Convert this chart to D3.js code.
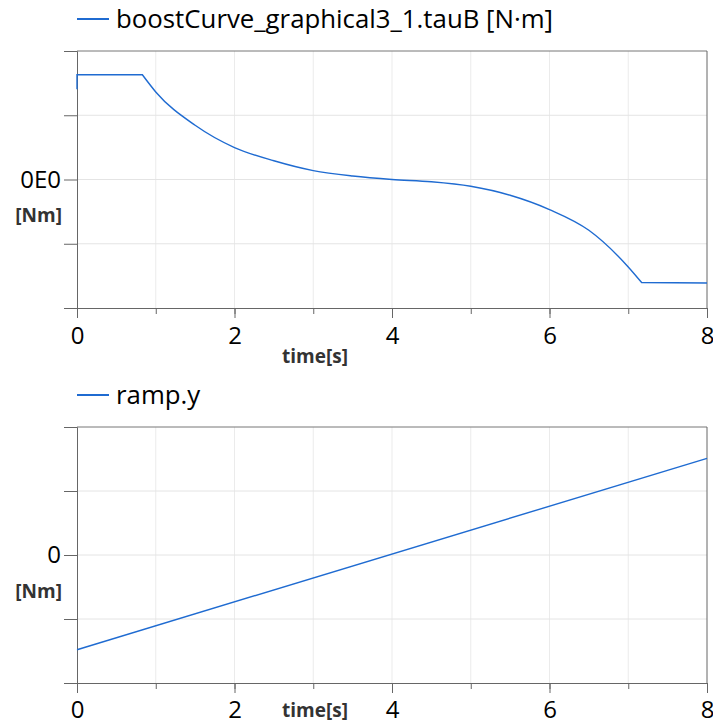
<!DOCTYPE html>
<html lang="en">
<head>
<meta charset="UTF-8">
<title>boostCurve</title>
<style>
  body { margin: 0; background: #fff; }
  text { font-family: "Open Sans", "Noto Sans", sans-serif; }
</style>
</head>
<body>
<svg id="svg" width="713" height="724"></svg>
<script src="https://d3js.org/d3.v7.min.js"></script>
<script>
// values (y in tick steps, one grid step = 1)
const tauT = [0, 0, 0.83, 1.0, 1.5, 2.0, 2.5, 3.0, 3.5, 4.0, 4.5, 5.0, 5.5, 6.0, 6.5, 7.0, 7.17, 8.0]
const tauB = [1.405, 1.63, 1.63, 1.363, 0.844, 0.497, 0.292, 0.139, 0.054, 0.0, -0.035, -0.105, -0.245, -0.468, -0.79, -1.361, -1.604, -1.61]
const rampT = [0, 8]
const rampY = [-1.48, 1.51]
const xTicks = [0, 1, 2, 3, 4, 5, 6, 7, 8]
const yTicks = [-2, -1, 0, 1, 2]

const svg = d3.select('#svg')
const lineColor = '#1f6bd1'
const left = 77, right = 707

const x = d3.scaleLinear().domain([0, 8]).range([left, right])

function panel(top, bottom, ts, vs, legend, zeroLabel, xLabelY, timeY) {
  const y = d3.scaleLinear().domain([-2, 2]).range([bottom, top])
  const g = svg.append('g')

  // grid
  g.append('g').selectAll('line')
    .data(xTicks.slice(1, -1)).enter().append('line')
    .attr('x1', d => x(d)).attr('x2', d => x(d))
    .attr('y1', top).attr('y2', bottom)
    .attr('stroke', '#ebebeb')
  g.append('g').selectAll('line')
    .data(yTicks.slice(1, -1)).enter().append('line')
    .attr('x1', left).attr('x2', right)
    .attr('y1', d => y(d)).attr('y2', d => y(d))
    .attr('stroke', '#e4e4e4')

  // frame top/right
  g.append('line').attr('x1', left).attr('x2', right).attr('y1', top).attr('y2', top)
    .attr('stroke', '#777')
  g.append('line').attr('x1', right).attr('x2', right).attr('y1', top).attr('y2', bottom)
    .attr('stroke', '#666')

  // y axis
  const ya = g.append('g').attr('transform', `translate(${left},0)`)
    .call(d3.axisLeft(y).tickValues(yTicks).tickSize(13).tickFormat(d => d === 0 ? zeroLabel : ''))
  ya.select('.domain').attr('stroke', '#666')
  ya.selectAll('.tick line').attr('stroke', '#666')
  ya.selectAll('text').attr('font-size', 24).attr('fill', '#000').attr('x', -16)
    .style('font-family', '"Open Sans", sans-serif')

  // x axis: minor + major ticks
  const xa = g.append('g').attr('transform', `translate(0,${bottom})`)
    .call(d3.axisBottom(x).tickValues(xTicks).tickSize(6).tickFormat(''))
  xa.select('.domain').attr('stroke', '#666').attr('d', `M${left - 13},0.5H${right}`)
  xa.selectAll('.tick line').attr('stroke', '#666')
  const xb = g.append('g').attr('transform', `translate(0,${bottom})`)
    .call(d3.axisBottom(x).tickValues(xTicks.filter(d => d % 2 === 0)).tickSize(10).tickFormat(d3.format('d')))
  xb.select('.domain').remove()
  xb.selectAll('.tick line').attr('stroke', '#666')
  xb.selectAll('text').attr('font-size', 24).attr('fill', '#000')
    .attr('y', xLabelY).attr('dy', '0.35em')
    .style('font-family', '"Open Sans", sans-serif')

  // unit labels
  g.append('text').attr('x', 62).attr('y', y(0) + 36).attr('text-anchor', 'end')
    .attr('font-size', 19).attr('font-weight', 'bold').attr('fill', '#333')
    .attr('dy', '0.35em').text('[Nm]')
  g.append('text').attr('x', 315).attr('y', bottom + timeY).attr('text-anchor', 'middle')
    .attr('font-size', 19).attr('font-weight', 'bold').attr('fill', '#333')
    .attr('dy', '0.35em').text('time[s]')

  // curve: flat parts straight, the bend smooth
  const pts = ts.map((t, i) => [t, vs[i]])
  const px = d => x(d[0]), py = d => y(d[1])
  let d
  if (pts.length > 2) {
    const i0 = 2, i1 = pts.length - 2
    d = d3.line().x(px).y(py)(pts.slice(0, i0 + 1)) +
      d3.line().x(px).y(py).curve(d3.curveMonotoneX)(pts.slice(i0, i1 + 1)).replace(/^M/, 'L') +
      d3.line().x(px).y(py)(pts.slice(i1)).replace(/^M/, 'L')
  } else {
    d = d3.line().x(px).y(py)(pts)
  }
  g.append('path').attr('fill', 'none').attr('stroke', lineColor).attr('stroke-width', 1.4).attr('d', d)

  // legend
  const ly = top - 32
  g.append('line').attr('x1', 77).attr('x2', 109).attr('y1', ly).attr('y2', ly)
    .attr('stroke', lineColor).attr('stroke-width', 2)
  g.append('text').attr('x', 116).attr('y', ly).attr('dy', '0.35em')
    .attr('font-size', 25.8).attr('fill', '#000').text(legend)
}

panel(51, 308, tauT, tauB, 'boostCurve_graphical3_1.tauB [N\u00b7m]', '0E0', 28, 48)
panel(427, 683, rampT, rampY, 'ramp.y', '0', 27, 27)
</script>
</body>
</html>
